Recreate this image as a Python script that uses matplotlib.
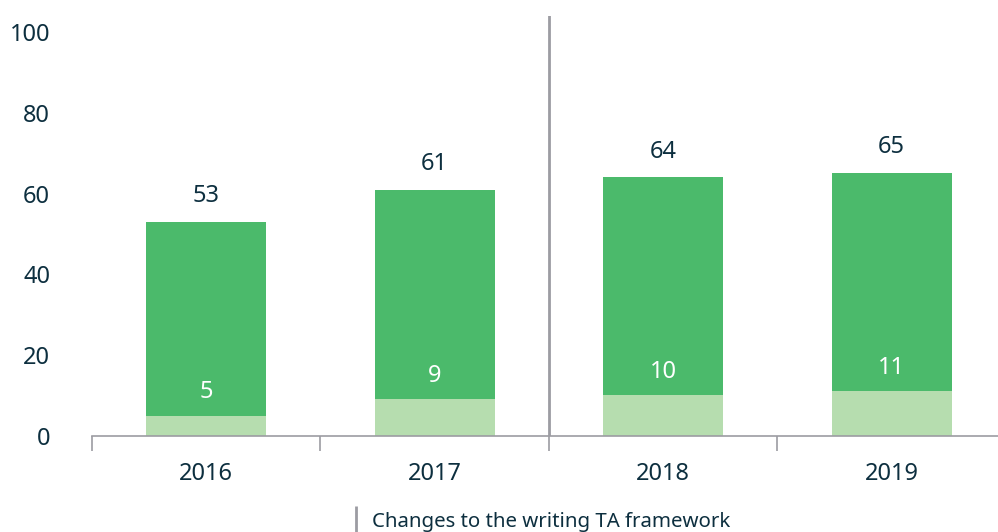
import numpy as np
import matplotlib.pyplot as plt
from matplotlib.lines import Line2D

plt.rcParams['font.family'] = ['Noto Sans', 'DejaVu Sans']
plt.rcParams['font.weight'] = 'medium'

years = ['2016', '2017', '2018', '2019']
total = [53, 61, 64, 65]
lower = [5, 9, 10, 11]
change_label = 'Changes to the writing TA framework'

dark_green = '#4bba6b'
light_green = '#b6ddaf'
text_col = '#0d2f3f'
grey = '#9c9ca2'

x = np.arange(len(years))
upper = [t - l for t, l in zip(total, lower)]

fig = plt.figure(figsize=(9.98, 5.32), dpi=100)
ax = fig.add_axes([0.092, 0.181, 0.908, 0.789])

ax.bar(x, lower, width=0.525, color=light_green)
ax.bar(x, upper, bottom=lower, width=0.525, color=dark_green)

# labels: totals above the bars, the smaller values in white just above the light part
for xi, t, l in zip(x, total, lower):
    ax.annotate(str(t), (xi, t), xytext=(0, 10), textcoords='offset points',
                ha='center', va='bottom', fontsize=17, color=text_col)
    ax.annotate(str(l), (xi, l), xytext=(0, 8), textcoords='offset points',
                ha='center', va='bottom', fontsize=17, color='white')

ax.axvline(1.5, color=grey, lw=2)

ax.set_xlim(-0.5, 3.465)
ax.set_ylim(0, 104)
ax.set_yticks([0, 20, 40, 60, 80, 100])
ax.tick_params(axis='y', length=0, pad=30, labelsize=17, labelcolor=text_col)
ax.set_xticks(x)
ax.set_xticklabels(years)
ax.tick_params(axis='x', which='major', length=0, pad=19, labelsize=17, labelcolor=text_col)
ax.set_xticks([-0.5, 0.5, 1.5, 2.5], minor=True)
ax.tick_params(axis='x', which='minor', length=11, width=1.2, color=grey)

for s in ['top', 'right', 'left']:
    ax.spines[s].set_visible(False)
ax.spines['bottom'].set_color(grey)
ax.spines['bottom'].set_linewidth(1.2)

handle = Line2D([], [], color=grey, marker='|', linestyle='None', markersize=20, markeredgewidth=2)
fig.legend([handle], [change_label], loc='lower center', bbox_to_anchor=(0.541, -0.035),
           frameon=False, fontsize=14.7, labelcolor=text_col, handlelength=0.6, handletextpad=0.5)

fig.savefig('out.png', dpi=100)
